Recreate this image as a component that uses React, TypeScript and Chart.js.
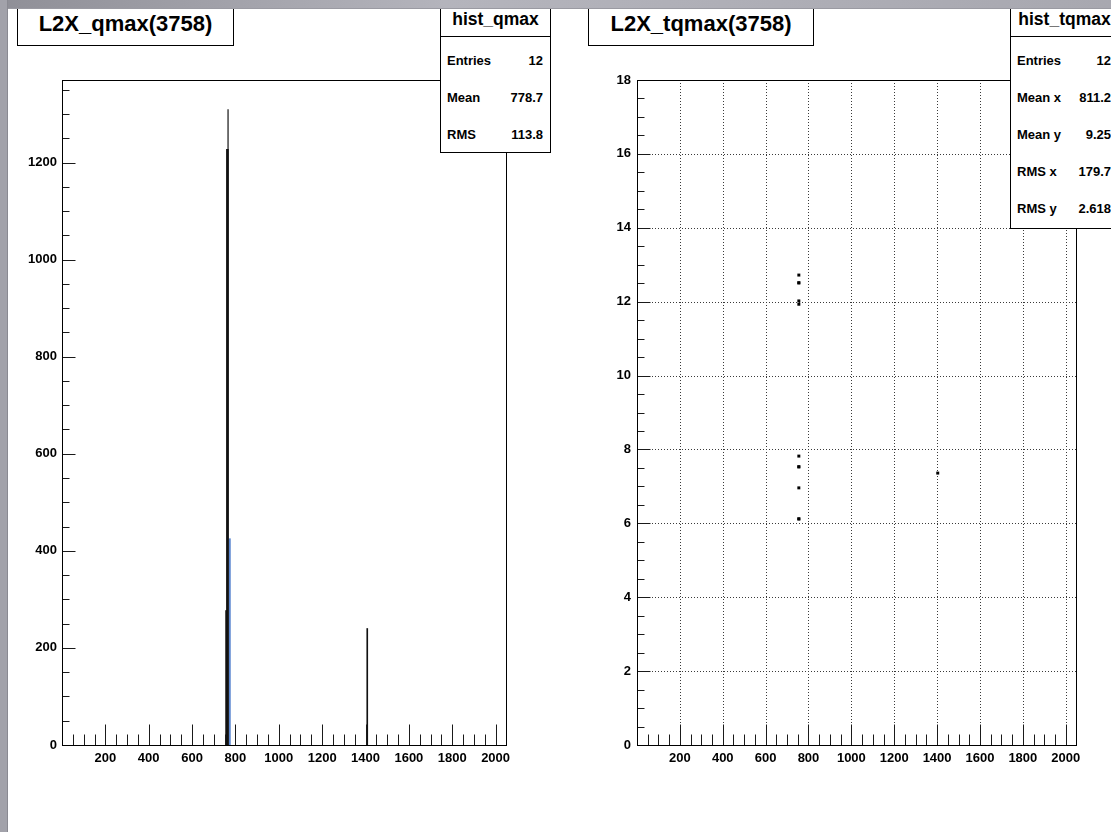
import React, { useEffect, useRef } from "react";
import { Chart, registerables } from "chart.js";

Chart.register(...registerables);

const FONT = '"Liberation Sans", Arial, Helvetica, sans-serif';

// ---- Left pad: hist_qmax ----
const qmaxBinCenters = [758, 763, 766, 771, 1408];
const qmaxCounts = [277, 1227, 1309, 425, 240];
const qmaxXTicks = [200, 400, 600, 800, 1000, 1200, 1400, 1600, 1800, 2000];
const qmaxYTicks = [0, 200, 400, 600, 800, 1000, 1200];
const qmaxStatLabels = ["Entries", "Mean", "RMS"];
const qmaxStatValues = ["12", "778.7", "113.8"];

// ---- Right pad: hist_tqmax ----
const tqmaxX = [755, 755, 755, 755, 755, 755, 755, 755, 755, 755, 755, 1403];
const tqmaxY = [12.72, 12.51, 12.51, 12.02, 11.93, 7.82, 7.53, 7.53, 6.96, 6.12, 6.12, 7.36];
const tqmaxXTicks = [200, 400, 600, 800, 1000, 1200, 1400, 1600, 1800, 2000];
const tqmaxYTicks = [0, 2, 4, 6, 8, 10, 12, 14, 16, 18];
const tqmaxGridY = [2, 4, 6, 8, 10, 12, 14, 16];
const tqmaxStatLabels = ["Entries", "Mean x", "Mean y", "RMS x", "RMS y"];
const tqmaxStatValues = ["12", "811.2", "9.25", "179.7", "2.618"];

// bar styles (presentation only)
const qmaxBarWidths = [1.5, 2, 1, 2.5, 1];
const qmaxBarColors = ["#111111", "#111111", "#555555", "#5a86d0", "#111111"];
const qmaxBarOrder = [0, 0, 0, 1, 0];

type Deco = {
  xMax: number;
  xMajorStep: number;
  xMinorStep: number;
  yMax: number;
  yMajorStep: number;
  yMinorStep: number;
  xMajorLen: number;
  xMinorLen: number;
  yMajorLen: number;
  yMinorLen: number;
  gridX?: number[];
  gridY?: number[];
};

function isMultiple(v: number, step: number) {
  const r = v / step;
  return Math.abs(r - Math.round(r)) < 1e-6;
}

function decoPlugin(d: Deco) {
  return {
    id: "rootDeco",
    beforeDatasetsDraw(chart: any) {
      const { ctx, chartArea: a, scales } = chart;
      if (d.gridX || d.gridY) {
        ctx.save();
        ctx.strokeStyle = "#3a3a3a";
        ctx.lineWidth = 1;
        ctx.setLineDash([1, 2]);
        (d.gridX || []).forEach((v) => {
          const x = Math.round(scales.x.getPixelForValue(v)) + 0.5;
          ctx.beginPath();
          ctx.moveTo(x, a.top);
          ctx.lineTo(x, a.bottom);
          ctx.stroke();
        });
        (d.gridY || []).forEach((v) => {
          const y = Math.round(scales.y.getPixelForValue(v)) + 0.5;
          ctx.beginPath();
          ctx.moveTo(a.left, y);
          ctx.lineTo(a.right, y);
          ctx.stroke();
        });
        ctx.restore();
      }
    },
    afterDatasetsDraw(chart: any) {
      const { ctx, chartArea: a, scales } = chart;
      ctx.save();
      ctx.setLineDash([]);
      ctx.lineWidth = 1;
      ctx.strokeStyle = "#1a1a1a";
      const bottom = Math.round(a.bottom) + 0.5;
      const left = Math.round(a.left) + 0.5;
      for (let v = d.xMinorStep; v <= d.xMax; v += d.xMinorStep) {
        const x = Math.round(scales.x.getPixelForValue(v)) + 0.5;
        const len = isMultiple(v, d.xMajorStep) ? d.xMajorLen : d.xMinorLen;
        ctx.beginPath();
        ctx.moveTo(x, bottom);
        ctx.lineTo(x, bottom - len);
        ctx.stroke();
      }
      for (let v = d.yMinorStep; v <= d.yMax + 1e-9; v += d.yMinorStep) {
        const y = Math.round(scales.y.getPixelForValue(v)) + 0.5;
        const len = isMultiple(v, d.yMajorStep) ? d.yMajorLen : d.yMinorLen;
        ctx.beginPath();
        ctx.moveTo(left, y);
        ctx.lineTo(left + len, y);
        ctx.stroke();
      }
      ctx.strokeStyle = "#000";
      ctx.strokeRect(
        Math.round(a.left) + 0.5,
        Math.round(a.top) + 0.5,
        Math.round(a.right) - Math.round(a.left),
        Math.round(a.bottom) - Math.round(a.top)
      );
      ctx.restore();
    },
  };
}

const tickFont = { family: FONT, size: 13, weight: "bold" as const };

function axis(
  min: number,
  max: number,
  values: number[],
  fit: (s: any) => void,
  padding: number
) {
  return {
    type: "linear" as const,
    min,
    max,
    offset: false,
    grid: { display: false, drawTicks: false, offset: false },
    border: { display: false },
    afterBuildTicks: (s: any) => {
      s.ticks = values.map((v) => ({ value: v }));
    },
    afterFit: fit,
    ticks: {
      autoSkip: false,
      maxRotation: 0,
      minRotation: 0,
      padding,
      color: "#000",
      font: tickFont,
      callback: (v: any) => String(v),
    },
  };
}

function StatsBox(props: {
  left: number;
  width: number;
  height: number;
  title: string;
  labels: string[];
  values: string[];
}) {
  const { left, width, height, title, labels, values } = props;
  return (
    <div
      style={{
        position: "absolute",
        left,
        top: -1,
        width,
        height,
        boxSizing: "border-box",
        border: "1px solid #000",
        background: "#fff",
        fontFamily: FONT,
        fontWeight: "bold",
        color: "#000",
      }}
    >
      <div
        style={{
          position: "absolute",
          left: 0,
          right: 0,
          top: 0,
          height: 37,
          borderBottom: "1px solid #000",
          display: "flex",
          alignItems: "center",
          justifyContent: "center",
          fontSize: 17.5,
          paddingTop: 3,
          boxSizing: "border-box",
          whiteSpace: "nowrap",
        }}
      >
        {title}
      </div>
      {labels.map((lab, i) => (
        <div
          key={lab}
          style={{
            position: "absolute",
            left: 6,
            right: 7,
            top: 60 + i * 37 - 9,
            height: 18,
            display: "flex",
            alignItems: "center",
            justifyContent: "space-between",
            fontSize: 13,
            whiteSpace: "nowrap",
          }}
        >
          <span>{lab}</span>
          <span>{values[i]}</span>
        </div>
      ))}
    </div>
  );
}

function TitleBox(props: { left: number; width: number; text: string }) {
  return (
    <div
      style={{
        position: "absolute",
        left: props.left,
        top: 0,
        width: props.width,
        height: 46,
        boxSizing: "border-box",
        border: "1px solid #000",
        background: "#fff",
        display: "flex",
        alignItems: "center",
        justifyContent: "center",
        fontFamily: FONT,
        fontWeight: "bold",
        fontSize: 22,
        paddingTop: 2,
        color: "#000",
        whiteSpace: "nowrap",
      }}
    >
      {props.text}
    </div>
  );
}

export default function App() {
  const leftRef = useRef<HTMLCanvasElement | null>(null);
  const rightRef = useRef<HTMLCanvasElement | null>(null);

  useEffect(() => {
    if (!leftRef.current || !rightRef.current) return;

    const barDatasets = qmaxBinCenters.map((x, i) => ({
      label: "hist_qmax_" + i,
      data: [{ x, y: qmaxCounts[i] }],
      backgroundColor: qmaxBarColors[i],
      borderWidth: 0,
      barThickness: qmaxBarWidths[i],
      grouped: false,
      order: qmaxBarOrder[i],
    }));

    const left = new Chart(leftRef.current, {
      type: "bar",
      data: { datasets: barDatasets as any },
      options: {
        responsive: false,
        animation: false,
        layout: { padding: { left: 0, right: 54, top: 80, bottom: 57 } },
        plugins: { legend: { display: false }, tooltip: { enabled: false } },
        scales: {
          x: axis(0, 2048, qmaxXTicks, (s: any) => { s.height = 30; }, 6) as any,
          y: axis(0, 1370, qmaxYTicks, (s: any) => { s.width = 62; }, 5) as any,
        },
      },
      plugins: [
        decoPlugin({
          xMax: 2048, xMajorStep: 200, xMinorStep: 50,
          yMax: 1370, yMajorStep: 200, yMinorStep: 50,
          xMajorLen: 21, xMinorLen: 11, yMajorLen: 13, yMinorLen: 7,
        }) as any,
      ],
    });

    const right = new Chart(rightRef.current, {
      type: "scatter",
      data: {
        datasets: [
          {
            label: "hist_tqmax",
            data: tqmaxX.map((x, i) => ({ x, y: tqmaxY[i] })),
            pointStyle: "rect",
            pointRadius: 2.1,
            pointBackgroundColor: "#000",
            pointBorderWidth: 0,
            showLine: false,
          } as any,
        ],
      },
      options: {
        responsive: false,
        animation: false,
        layout: { padding: { left: 0, right: 35, top: 80, bottom: 57 } },
        plugins: { legend: { display: false }, tooltip: { enabled: false } },
        scales: {
          x: axis(0, 2048, tqmaxXTicks, (s: any) => { s.height = 30; }, 6) as any,
          y: axis(0, 18, tqmaxYTicks, (s: any) => { s.width = 77; }, 6) as any,
        },
      },
      plugins: [
        decoPlugin({
          xMax: 2048, xMajorStep: 200, xMinorStep: 50,
          yMax: 18, yMajorStep: 2, yMinorStep: 0.5,
          xMajorLen: 21, xMinorLen: 11, yMajorLen: 13, yMinorLen: 7,
          gridX: tqmaxXTicks,
          gridY: tqmaxGridY,
        }) as any,
      ],
    });

    return () => {
      left.destroy();
      right.destroy();
    };
  }, []);

  return (
    <div
      style={{
        position: "fixed",
        left: 0,
        top: 0,
        width: 1111,
        height: 832,
        overflow: "hidden",
        background: "#fff",
      }}
    >
      <canvas
        ref={leftRef}
        width={560}
        height={832}
        style={{ position: "absolute", left: 0, top: 0, width: 560, height: 832 }}
      />
      <canvas
        ref={rightRef}
        width={551}
        height={832}
        style={{ position: "absolute", left: 560, top: 0, width: 551, height: 832 }}
      />
      <TitleBox left={17} width={217} text="L2X_qmax(3758)" />
      <TitleBox left={588} width={226} text="L2X_tqmax(3758)" />
      <StatsBox
        left={440}
        width={111}
        height={154}
        title="hist_qmax"
        labels={qmaxStatLabels}
        values={qmaxStatValues}
      />
      <StatsBox
        left={1010}
        width={109}
        height={230}
        title="hist_tqmax"
        labels={tqmaxStatLabels}
        values={tqmaxStatValues}
      />
      <div
        style={{
          position: "absolute",
          left: 0,
          top: 0,
          width: 1111,
          height: 8,
          background: "linear-gradient(to right, #8f8f97, #b4b4bc 40%, #a8a8b0)",
          borderBottom: "1px solid #9a9aa2",
        }}
      />
      <div
        style={{
          position: "absolute",
          left: 0,
          top: 0,
          width: 7,
          height: 832,
          background: "#a2a2aa",
          borderRight: "1px solid #8a8a92",
        }}
      />
    </div>
  );
}
